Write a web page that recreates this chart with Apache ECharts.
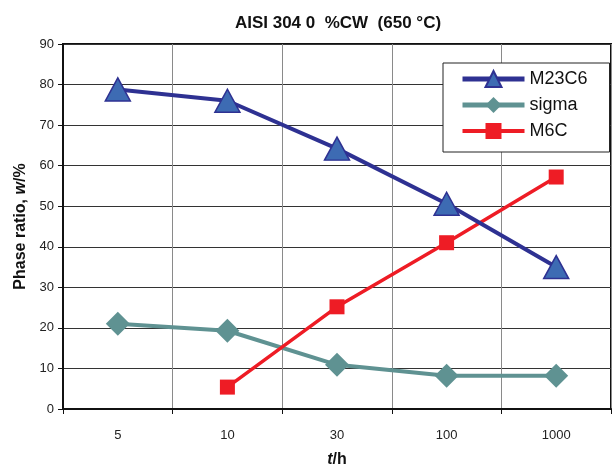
<!DOCTYPE html>
<html><head><meta charset="utf-8">
<script src="https://cdn.jsdelivr.net/npm/echarts@6/dist/echarts.min.js"></script>
<style>html,body{margin:0;padding:0;background:#fff}#c{width:613px;height:465px}</style>
</head><body><div id="c"></div>
<script>
const categories = ['5', '10', '30', '100', '1000'];
const m23c6 = [78.8, 76, 64.2, 50.6, 35];
const sigma = [21, 19.3, 10.9, 8.2, 8.2];
const m6c = [null, 5.4, 25.2, 41, 57.2];
const yTicks = { min: 0, max: 90, interval: 10 };

const chart = echarts.init(document.getElementById('c'));
const F = 'Arial, "Liberation Sans", sans-serif';
chart.setOption({
  animation: false,
  title: {
    text: 'AISI 304 0  %CW  (650 °C)', left: 333, top: 10, textAlign: 'center',
    textStyle: { fontFamily: F, fontSize: 17, fontWeight: 'bold', color: '#111' }
  },
  grid: { left: 63, right: 2, top: 44, bottom: 56, outerBoundsMode: 'none', containLabel: false,
    show: true, borderColor: '#111', borderWidth: 2, backgroundColor: 'transparent' },
  legend: {
    orient: 'vertical', left: 443, top: 63,
    padding: [7, 22, 12, 17], itemGap: 8, itemWidth: 62, itemHeight: 20,
    borderColor: '#222', borderWidth: 1, backgroundColor: '#fff',
    textStyle: { fontFamily: F, fontSize: 18, color: '#111' },
    data: [
      { name: 'M23C6', lineStyle: { width: 5 } },
      { name: 'sigma', lineStyle: { width: 5 } },
      { name: 'M6C', lineStyle: { width: 4 } }
    ]
  },
  xAxis: {
    type: 'category', data: categories, boundaryGap: true,
    name: '{i|t}{b|/h}', nameLocation: 'middle', nameGap: 43,
    nameTextStyle: { rich: {
      i: { fontFamily: F, fontSize: 16, fontWeight: 'bold', fontStyle: 'italic', color: '#111' },
      b: { fontFamily: F, fontSize: 16, fontWeight: 'bold', color: '#111' } } },
    axisLine: { lineStyle: { color: '#111', width: 2 } },
    axisTick: { show: true, interval: 0, length: 5, lineStyle: { color: '#111' } },
    axisLabel: { fontFamily: F, fontSize: 13, color: '#222', margin: 20 },
    splitLine: { show: true, interval: 0, lineStyle: { color: '#8a8a8a', width: 1 } }
  },
  yAxis: {
    type: 'value', min: yTicks.min, max: yTicks.max, interval: yTicks.interval,
    name: '{b|Phase ratio, }{i|w}{b|/%}', nameLocation: 'middle', nameGap: 25, nameRotate: 90,
    nameTextStyle: { rich: {
      i: { fontFamily: F, fontSize: 16, fontWeight: 'bold', fontStyle: 'italic', color: '#111' },
      b: { fontFamily: F, fontSize: 16, fontWeight: 'bold', color: '#111' } } },
    axisLine: { show: true, lineStyle: { color: '#111', width: 2 } },
    axisTick: { show: true, length: 5, lineStyle: { color: '#111' } },
    axisLabel: { fontFamily: F, fontSize: 13, color: '#222', margin: 9 },
    splitLine: { show: true, lineStyle: { color: '#333', width: 1 } }
  },
  series: [
    { name: 'M23C6', type: 'line', data: m23c6, symbol: 'triangle', symbolSize: [25, 23],
      lineStyle: { color: '#2e3192', width: 4 },
      itemStyle: { color: '#3d6bb3', borderColor: '#2e3192', borderWidth: 1.5 }, z: 3 },
    { name: 'sigma', type: 'line', data: sigma, symbol: 'diamond', symbolSize: [24, 24],
      lineStyle: { color: '#5f9292', width: 4 },
      itemStyle: { color: '#5f9292', borderWidth: 0 }, z: 2 },
    { name: 'M6C', type: 'line', data: m6c, symbol: 'rect', symbolSize: [15, 15],
      lineStyle: { color: '#ee1c25', width: 3.5 },
      itemStyle: { color: '#ee1c25', borderWidth: 0 }, z: 2 }
  ]
});
</script></body></html>
